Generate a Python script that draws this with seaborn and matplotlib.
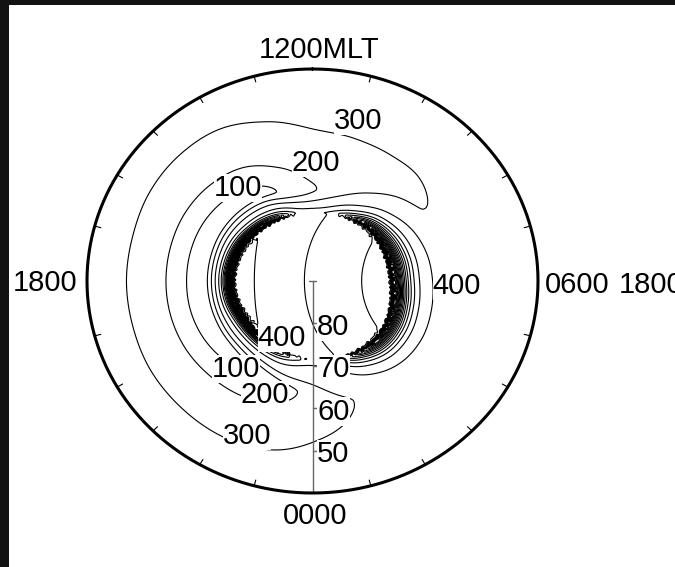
import numpy as np
import pandas as pd
import matplotlib
matplotlib.use("Agg")
import matplotlib.pyplot as plt
from matplotlib.patches import Rectangle
import seaborn as sns

# ---- field description (colatitude in degrees, MLT in hours) ----
mlt_hours = list(range(24))
# background level equatorward of the oval
background = [335, 340, 355, 365, 370, 370, 370, 365, 355, 345, 340, 335,
              335, 340, 345, 350, 355, 360, 360, 360, 355, 350, 345, 340]
# poleward edge of the auroral ridge (colatitude, deg)
ridge_edge = [18.5, 19.0, 19.5, 19.7, 19.3, 18.5, 17.8, 17.6, 17.6, 17.6, 17.0, 16.5,
              16.2, 16.3, 16.6, 17.0, 17.5, 17.8, 18.0, 17.8, 17.4, 17.5, 17.8, 18.2]
# ridge height above the background at its edge
ridge_amp = [170, 300, 900, 1600, 2000, 2150, 2200, 2200, 1900, 1400, 650, 240,
             150, 260, 900, 1800, 2300, 2500, 2500, 2500, 2300, 1800, 1000, 380]
# equatorward e-folding width of the ridge (deg)
ridge_decay = [1.5, 1.8, 2.0, 2.1, 2.1, 2.1, 2.1, 2.1, 2.0, 1.7, 1.5, 1.4,
               1.3, 1.2, 1.0, 0.85, 0.82, 0.82, 0.82, 0.82, 0.82, 0.85, 1.0, 1.3]
# depth and colatitude of the dusk-side trough
trough_depth = [100, 50, 25, 15, 10, 10, 15, 30, 50, 65, 85, 110,
                145, 220, 275, 300, 315, 325, 325, 325, 310, 285, 245, 180]
trough_center = [27, 29.5, 30, 30, 30, 30, 30, 30, 30, 29, 26, 23,
                 21.5, 22, 23.5, 24.2, 24.5, 24.5, 24.5, 24.5, 24.5, 24.5, 25, 26]
# jagged structure of the poleward wall: (amplitude deg, waves per circle, phase)
edge_ripple = [(0.16, 88, 0.0), (0.10, 51, 1.3), (0.07, 137, 2.1)]
# polar-cap values across the dawn-dusk line (x in deg, dawn positive)
cap_x = [-30.0, -12.9, -1.8, 10.9, 30.0]
cap_val = [246, 400, 500, 600, 751]

levels = list(range(100, 2100, 100))

# boundary hour labels and latitude scale
hour_labels = ["1200MLT", "1800", "0600", "0000"]
lat_ticks = [80, 70, 60, 50]
outer_colat = 50


def periodic_spline(vals, t):
    v = np.asarray(vals, float)
    n = len(v)
    t = np.mod(t, n)
    i = np.floor(t).astype(int)
    u = t - i
    p0, p1, p2, p3 = v[(i - 1) % n], v[i % n], v[(i + 1) % n], v[(i + 2) % n]
    return 0.5 * (2 * p1 + (-p0 + p2) * u + (2 * p0 - 5 * p1 + 4 * p2 - p3) * u ** 2
                  + (-p0 + 3 * p1 - 3 * p2 + p3) * u ** 3)


n = 901
g = np.linspace(-outer_colat, outer_colat, n)
X, Y = np.meshgrid(g, g)
R = np.hypot(X, Y)
ANG = np.arctan2(X, -Y)
MLT = np.mod(np.degrees(ANG) / 15.0, 24)

bg = periodic_spline(background, MLT)
edge = periodic_spline(ridge_edge, MLT)
wall = edge.copy()
for a_r, k_r, ph in edge_ripple:
    wall = wall + a_r * np.sin(k_r * ANG + ph)
amp = periodic_spline(ridge_amp, MLT)
decay = periodic_spline(ridge_decay, MLT)
depth = periodic_spline(trough_depth, MLT)
tc = periodic_spline(trough_center, MLT)

d = R - tc
prof = np.where(d < 0, np.exp(-(d / 2.6) ** 2),
                np.exp(-(np.sqrt(d ** 2 + 4) - 2) / 8.8))
outside = bg - depth * prof + amp * np.exp(-np.clip(R - edge, 0, None) / decay)

xe = X - (0.018 + 0.0008 * X) * Y ** 2
cap = np.interp(xe, cap_x, cap_val)

w = 1.0 / (1.0 + np.exp(np.clip((R - wall) / 0.2, -60, 60)))
F = w * cap + (1 - w) * outside
F[R > outer_colat] = np.nan

# ---- drawing ----
sns.set_style("white")
plt.rcParams["font.family"] = ["Liberation Sans", "DejaVu Sans"]
plt.rcParams["text.color"] = "black"

W, H = 675, 567
fig = plt.figure(figsize=(W / 100, H / 100), dpi=100)
fig.patch.set_facecolor("white")
ax = fig.add_axes([87 / W, 74 / H, 451 / W, 424 / H])
ax.set_xlim(-outer_colat, outer_colat)
ax.set_ylim(-outer_colat, outer_colat)
ax.axis("off")

ax.contour(X, Y, F, levels=levels, colors="black", linewidths=0.8, zorder=2)

# outer boundary circle
phi = np.linspace(0, 2 * np.pi, 721)
circle = pd.DataFrame({"x": outer_colat * np.sin(phi), "y": outer_colat * np.cos(phi)})
sns.lineplot(data=circle, x="x", y="y", sort=False, estimator=None, color="black",
             linewidth=2.2, ax=ax, zorder=4)
for ln in ax.lines:
    ln.set_clip_on(False)

# hour ticks on the boundary
for h in range(24):
    if h % 6:
        a = np.radians(h * 15)
        ax.plot([48.6 * np.sin(a), outer_colat * np.sin(a)],
                [-48.6 * np.cos(a), -outer_colat * np.cos(a)],
                color="black", lw=0.8, clip_on=False, zorder=4)

# midnight meridian with latitude scale
ax.plot([0, 0], [0, -outer_colat], color="0.4", lw=1.0, zorder=3)
ax.plot([-0.8, 0.8], [0, 0], color="0.4", lw=1.0, zorder=3)
for lat in lat_ticks:
    c = 90 - lat
    ax.plot([0, 0.9], [-c, -c], color="0.4", lw=1.0, zorder=3)
    ax.text(1.0, -c - 0.8, str(lat), fontsize=21, ha="left", va="center",
            zorder=6, bbox=dict(fc="white", ec="none", pad=0.2))


def fig_text(px, py, s, **kw):
    fig.text(px / W, 1 - py / H, s, fontsize=21, ha="center", va="center", **kw)


fig_text(319, 50, hour_labels[0])
fig_text(45, 283, hour_labels[1])
fig_text(577, 285, hour_labels[2])
fig_text(651, 285, hour_labels[1])
fig_text(315, 516, hour_labels[3])

# contour labels
label_pos = [(358, 121), (316, 163), (238, 188), (457, 286),
             (282, 338), (236, 369), (265, 395), (247, 436)]
label_lev = [300, 200, 100, 400, 400, 100, 200, 300]
for (px, py), lev in zip(label_pos, label_lev):
    fig.text(px / W, 1 - py / H, f"{lev}", fontsize=21, ha="center", va="center",
             zorder=6, bbox=dict(fc="white", ec="none", pad=0.1))

# dark frame strips
fig.patches.append(Rectangle((0, 0), 9 / W, 1, transform=fig.transFigure,
                             facecolor="#121212", edgecolor="none", zorder=10))
fig.patches.append(Rectangle((0, 1 - 5 / H), 1, 5 / H, transform=fig.transFigure,
                             facecolor="#121212", edgecolor="none", zorder=10))

fig.savefig("out.png", dpi=100, facecolor="white")
